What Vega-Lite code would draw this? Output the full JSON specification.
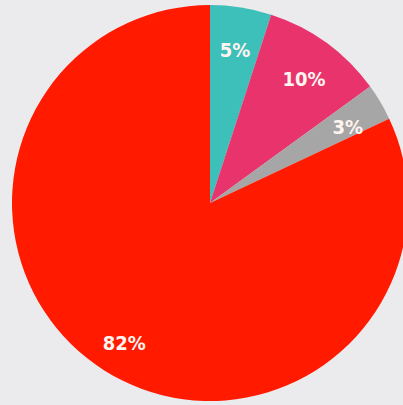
{
  "$schema": "https://vega.github.io/schema/vega-lite/v6.json",
  "width": 420,
  "height": 406,
  "padding": 0,
  "autosize": {"type": "none"},
  "background": "#ebebee",
  "view": {"stroke": null},
  "data": {"values": [
    {"cat": "Teal", "pct": 5, "label": "5%", "o": 1},
    {"cat": "Pink", "pct": 10, "label": "10%", "o": 2},
    {"cat": "Gray", "pct": 3, "label": "3%", "o": 3},
    {"cat": "Red", "pct": 82, "label": "82%", "o": 4}
  ]},
  "encoding": {
    "theta": {"field": "pct", "type": "quantitative", "stack": true},
    "order": {"field": "o", "type": "quantitative"},
    "color": {
      "field": "cat", "type": "nominal",
      "scale": {"domain": ["Teal", "Pink", "Gray", "Red"], "range": ["#3dbfba", "#e8336c", "#a6a6a6", "#ff1a00"]},
      "legend": null
    }
  },
  "layer": [
    {"mark": {"type": "arc", "outerRadius": 198}},
    {
      "mark": {"type": "text", "radius": 160, "dy": 6, "fontSize": 20, "fontWeight": "bold", "font": "DejaVu Sans Condensed, DejaVu Sans"},
      "encoding": {
        "text": {"field": "label"},
        "color": {"value": "#fff4f0"}
      }
    }
  ]
}
